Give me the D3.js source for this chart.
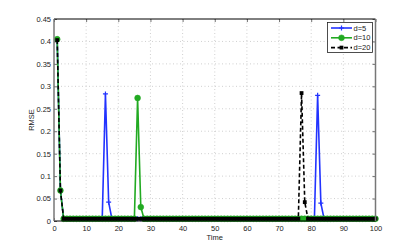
<!DOCTYPE html>
<html><head><meta charset="utf-8">
<script src="https://cdn.jsdelivr.net/npm/d3@7"></script>
<style>
html,body{margin:0;padding:0;background:#fff;}
svg{display:block;font-family:"Liberation Sans",Arial,sans-serif;}
</style></head>
<body><svg id="c" width="415" height="249"></svg>
<script>
// ---- data ----
const time = d3.range(1, 101);
const rmseD5 = [
0.405,0.068,0.005,0.005,0.005,0.005,0.005,0.005,0.005,0.005,
0.005,0.005,0.005,0.005,0.005,0.283,0.042,0.005,0.005,0.005,
0.005,0.005,0.005,0.005,0.005,0.005,0.005,0.005,0.005,0.005,
0.005,0.005,0.005,0.005,0.005,0.005,0.005,0.005,0.005,0.005,
0.005,0.005,0.005,0.005,0.005,0.005,0.005,0.005,0.005,0.005,
0.005,0.005,0.005,0.005,0.005,0.005,0.005,0.005,0.005,0.005,
0.005,0.005,0.005,0.005,0.005,0.005,0.005,0.005,0.005,0.005,
0.005,0.005,0.005,0.005,0.005,0.005,0.005,0.005,0.005,0.005,
0.005,0.280,0.040,0.005,0.005,0.005,0.005,0.005,0.005,0.005,
0.005,0.005,0.005,0.005,0.005,0.005,0.005,0.005,0.005,0.005];
const rmseD10 = [
0.405,0.068,0.005,0.005,0.005,0.005,0.005,0.005,0.005,0.005,
0.005,0.005,0.005,0.005,0.005,0.005,0.005,0.005,0.005,0.005,
0.005,0.005,0.005,0.005,0.005,0.274,0.031,0.005,0.005,0.005,
0.005,0.005,0.005,0.005,0.005,0.005,0.005,0.005,0.005,0.005,
0.005,0.005,0.005,0.005,0.005,0.005,0.005,0.005,0.005,0.005,
0.005,0.005,0.005,0.005,0.005,0.005,0.005,0.005,0.005,0.005,
0.005,0.005,0.005,0.005,0.005,0.005,0.005,0.005,0.005,0.005,
0.005,0.005,0.005,0.005,0.005,0.005,0.005,0.005,0.005,0.005,
0.005,0.005,0.005,0.005,0.005,0.005,0.005,0.005,0.005,0.005,
0.005,0.005,0.005,0.005,0.005,0.005,0.005,0.005,0.005,0.005];
const rmseD20 = [
0.403,0.068,0.005,0.005,0.005,0.005,0.005,0.005,0.005,0.005,
0.005,0.005,0.005,0.005,0.005,0.005,0.005,0.005,0.005,0.005,
0.005,0.005,0.005,0.005,0.005,0.005,0.005,0.005,0.005,0.005,
0.005,0.005,0.005,0.005,0.005,0.005,0.005,0.005,0.005,0.005,
0.005,0.005,0.005,0.005,0.005,0.005,0.005,0.005,0.005,0.005,
0.005,0.005,0.005,0.005,0.005,0.005,0.005,0.005,0.005,0.005,
0.005,0.005,0.005,0.005,0.005,0.005,0.005,0.005,0.005,0.005,
0.005,0.005,0.005,0.005,0.005,0.005,0.285,0.042,0.005,0.005,
0.005,0.005,0.005,0.005,0.005,0.005,0.005,0.005,0.005,0.005,
0.005,0.005,0.005,0.005,0.005,0.005,0.005,0.005,0.005,0.005];
const seriesNames = ["d=5", "d=10", "d=20"];
const xTicks = [0,10,20,30,40,50,60,70,80,90,100];
const yTicks = [0,0.05,0.1,0.15,0.2,0.25,0.3,0.35,0.4,0.45];
const yTickLabels = ["0","0.05","0.1","0.15","0.2","0.25","0.3","0.35","0.4","0.45"];
const xLabel = "Time", yLabel = "RMSE";

// ---- chart ----
const svg = d3.select("#c");
const L = 54, R = 375.5, T = 19, B = 221;
const x = d3.scaleLinear().domain([0,100]).range([L,R]);
const y = d3.scaleLinear().domain([0,0.45]).range([B,T]);

// grid
const g = svg.append("g");
g.selectAll(".gx").data(xTicks.slice(1,-1)).join("line")
  .attr("x1",d=>x(d)).attr("x2",d=>x(d)).attr("y1",T).attr("y2",B)
  .attr("stroke","#bbb").attr("stroke-width",0.7).attr("stroke-dasharray","1,2.5");
g.selectAll(".gy").data(yTicks.slice(1,-1)).join("line")
  .attr("y1",d=>y(d)).attr("y2",d=>y(d)).attr("x1",L).attr("x2",R)
  .attr("stroke","#bbb").attr("stroke-width",0.7).attr("stroke-dasharray","1,2.5");

// axes
const xAx = svg.append("g").attr("transform",`translate(0,${B})`)
  .call(d3.axisBottom(x).tickValues(xTicks).tickSize(-3).tickPadding(5).tickFormat(d3.format("d")));
const xAxTop = svg.append("g").attr("transform",`translate(0,${T})`)
  .call(d3.axisTop(x).tickValues(xTicks).tickSize(-3).tickFormat(""));
const yAx = svg.append("g").attr("transform",`translate(${L},0)`)
  .call(d3.axisLeft(y).tickValues(yTicks).tickSize(-3).tickPadding(3).tickFormat((d,i)=>yTickLabels[i]));
const yAxR = svg.append("g").attr("transform",`translate(${R},0)`)
  .call(d3.axisRight(y).tickValues(yTicks).tickSize(-3).tickFormat(""));
[xAx,xAxTop,yAx,yAxR].forEach(a=>{
  a.select(".domain").remove();
  a.selectAll(".tick line").attr("stroke","#333").attr("stroke-width",0.7);
  a.selectAll("text").attr("font-size",7.5).attr("fill","#222").attr("font-family","Liberation Sans, Arial, sans-serif");
});
xAx.selectAll("text").attr("dy","0.6em");

// lines
const lineGen = d3.line().x((d,i)=>x(time[i])).y(d=>y(d));
const plot = svg.append("g");
const defs = [
  {vals:rmseD5, color:"#2233ff", dash:null, marker:"plus"},
  {vals:rmseD10, color:"#22aa22", dash:null, marker:"circle"},
  {vals:rmseD20, color:"#000000", dash:"4,2.5", marker:"square"}
];
function drawMarker(sel, type, color){
  if(type==="plus"){
    sel.append("path").attr("d","M-2.5,0H2.5M0,-2.5V2.5").attr("stroke",color).attr("stroke-width",1.2);
  } else if(type==="circle"){
    sel.append("circle").attr("r",2.9).attr("fill",color).attr("stroke",color).attr("stroke-width",0.6);
  } else {
    sel.append("rect").attr("x",-1.9).attr("y",-1.9).attr("width",3.8).attr("height",3.8).attr("fill",color);
  }
}
defs.forEach(s=>{
  plot.append("path").attr("d",lineGen(s.vals)).attr("fill","none")
    .attr("stroke",s.color).attr("stroke-width",1.6)
    .attr("stroke-dasharray",s.dash);
  s.vals.forEach((v,i)=>{
    const m = plot.append("g").attr("transform",`translate(${x(time[i])},${y(v)})`);
    drawMarker(m, s.marker, s.color);
  });
});

// frame
svg.append("line").attr("x1",L).attr("x2",R).attr("y1",T).attr("y2",T).attr("stroke","#000").attr("stroke-width",1);
svg.append("line").attr("x1",L).attr("x2",R).attr("y1",B).attr("y2",B).attr("stroke","#000").attr("stroke-width",1);
svg.append("line").attr("x1",L).attr("x2",L).attr("y1",T).attr("y2",B).attr("stroke","#777").attr("stroke-width",1.5);
svg.append("line").attr("x1",R).attr("x2",R).attr("y1",T).attr("y2",B).attr("stroke","#777").attr("stroke-width",1.5);

// labels
svg.append("text").attr("x",(L+R)/2).attr("y",240).attr("text-anchor","middle")
  .attr("font-size",7.5).attr("fill","#222").text(xLabel);
svg.append("text").attr("transform",`translate(34,${(T+B)/2}) rotate(-90)`).attr("text-anchor","middle")
  .attr("font-size",7.5).attr("fill","#222").text(yLabel);

// legend
const lg = svg.append("g");
lg.append("rect").attr("x",327.5).attr("y",22.5).attr("width",45).attr("height",30)
  .attr("fill","#fff").attr("stroke","#222").attr("stroke-width",0.8);
defs.forEach((s,i)=>{
  const yy = 28 + i*9.8;
  lg.append("line").attr("x1",331).attr("x2",352).attr("y1",yy).attr("y2",yy)
    .attr("stroke",s.color).attr("stroke-width",1.6).attr("stroke-dasharray",s.dash);
  const m = lg.append("g").attr("transform",`translate(341.5,${yy})`);
  drawMarker(m, s.marker, s.color);
  lg.append("text").attr("x",353.5).attr("y",yy).attr("dy","0.35em")
    .attr("font-size",7.5).attr("fill","#222").text(seriesNames[i]);
});
</script></body></html>
